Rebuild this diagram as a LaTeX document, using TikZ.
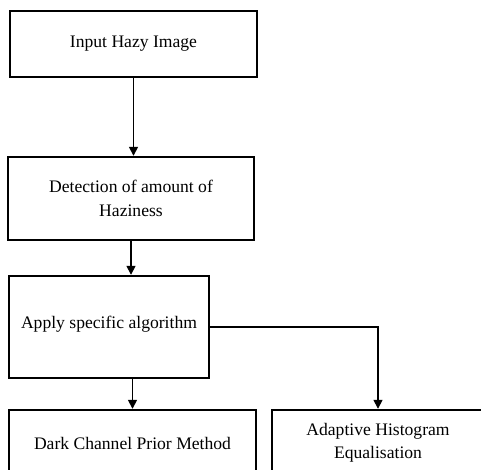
\documentclass[tikz,border=0pt]{standalone}
\usepackage{fontspec}
\setmainfont{Liberation Serif}
\usetikzlibrary{arrows.meta,positioning}

\tikzset{
    stage/.style={draw, line width=2.4pt, align=center, inner sep=0pt,
        font=\fontsize{17.6}{23.5}\selectfont},
    flow/.style={line width=1.6pt, -{Triangle[length=9pt,width=9pt]}}
}

\begin{document}
\begin{tikzpicture}[x=1pt,y=-1pt]
    \useasboundingbox (0,0) rectangle (481,470);
    \node[stage, minimum width=247pt, minimum height=66pt] (input) at (133.5,44) {Input Hazy Image};
    \node[stage, minimum width=246pt, minimum height=83pt] (detect) at (131,198.5) {Detection of amount of\\Haziness};
    \node[stage, minimum width=200pt, minimum height=102pt, text depth=10pt] (apply) at (109,327) {Apply specific algorithm};
    \node[stage, minimum width=247pt, minimum height=66pt] (dcp) at (132.5,443) {Dark Channel Prior Method};
    \node[stage, minimum width=212pt, minimum height=66pt] (ahe) at (378,443) {Adaptive Histogram\\Equalisation};
    % connectors
    \draw[flow] (input.south) -- (input.south |- detect.north);
    \draw[flow] (detect.south) -- (detect.south |- apply.north);
    \draw[flow] (dcp.north |- apply.south) -- (dcp.north);
    \draw[flow] (apply.east) -| (ahe.north);
\end{tikzpicture}
\end{document}
